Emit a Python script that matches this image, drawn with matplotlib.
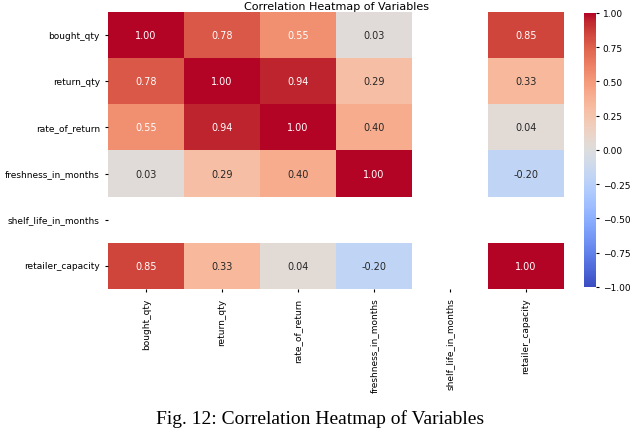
import matplotlib
matplotlib.use("Agg")
import matplotlib.pyplot as plt
import numpy as np
import pandas as pd
import seaborn as sns

# Variables
variables = ["bought_qty", "return_qty", "rate_of_return",
             "freshness_in_months", "shelf_life_in_months", "retailer_capacity"]

# Correlation rows (shelf_life is constant -> NaN)
bought_qty = [1.00, 0.78, 0.55, 0.03, np.nan, 0.85]
return_qty = [0.78, 1.00, 0.94, 0.29, np.nan, 0.33]
rate_of_return = [0.55, 0.94, 1.00, 0.40, np.nan, 0.04]
freshness_in_months = [0.03, 0.29, 0.40, 1.00, np.nan, -0.20]
shelf_life_in_months = [np.nan] * 6
retailer_capacity = [0.85, 0.33, 0.04, -0.20, np.nan, 1.00]

corr = pd.DataFrame([bought_qty, return_qty, rate_of_return,
                     freshness_in_months, shelf_life_in_months, retailer_capacity],
                    index=variables, columns=variables)

fig = plt.figure(figsize=(6.4, 4.31), dpi=100)
ax = fig.add_axes([0.169, 0.327, 0.712, 0.643])
cax = fig.add_axes([0.912, 0.332, 0.020, 0.636])

sns.heatmap(corr, annot=True, fmt=".2f", cmap="coolwarm", vmin=-1, vmax=1,
            ax=ax, cbar_ax=cax, annot_kws={"fontsize": 7})

ax.set_title("Correlation Heatmap of Variables", fontsize=8, pad=2)
ax.tick_params(labelsize=6.5, length=2.5)
ax.set_xticklabels(ax.get_xticklabels(), rotation=90)
ax.set_yticklabels(ax.get_yticklabels(), rotation=0)
cax.tick_params(labelsize=6.5, length=2.5, pad=2)

# caption below the figure
fig.text(0.5, 0.008, "Fig. 12: Correlation Heatmap of Variables",
         ha="center", va="bottom", fontsize=14, family="Liberation Serif")

fig.savefig("out.png", dpi=100)
